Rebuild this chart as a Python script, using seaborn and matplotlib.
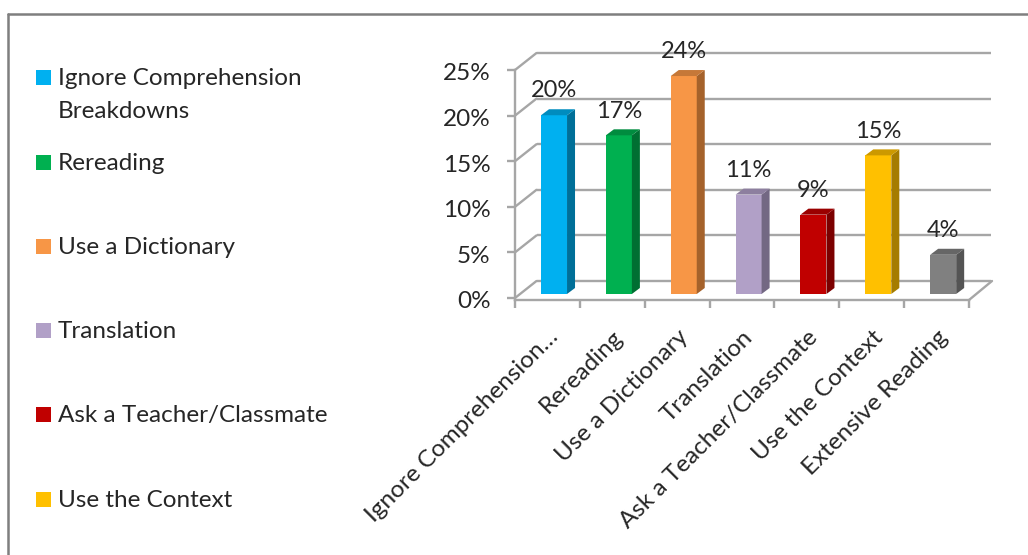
import matplotlib
matplotlib.use("Agg")
import matplotlib.pyplot as plt
from matplotlib.patches import Polygon, Rectangle
from matplotlib.transforms import ScaledTranslation
import pandas as pd
import seaborn as sns

categories = ["Ignore Comprehension Breakdowns", "Rereading", "Use a Dictionary",
              "Translation", "Ask a Teacher/Classmate", "Use the Context", "Extensive Reading"]
axis_labels = ["Ignore Comprehension…", "Rereading", "Use a Dictionary",
               "Translation", "Ask a Teacher/Classmate", "Use the Context", "Extensive Reading"]
legend_labels = ["Ignore Comprehension\nBreakdowns", "Rereading", "Use a Dictionary",
                 "Translation", "Ask a Teacher/Classmate", "Use the Context"]
values = [19.6, 17.4, 23.9, 10.9, 8.7, 15.2, 4.3]
value_labels = ["20%", "17%", "24%", "11%", "9%", "15%", "4%"]
front_colors = ["#00B0F0", "#00B050", "#F79646", "#B1A0C7", "#C00000", "#FFC000", "#808080"]
side_colors = ["#006F98", "#006F32", "#A5622B", "#736883", "#7C0000", "#A57C00", "#545454"]
top_colors = ["#008CBF", "#008C3F", "#C67838", "#8D7F9F", "#9A0000", "#CC9900", "#666666"]
y_ticks = [0, 5, 10, 15, 20, 25]

W, H = 1028, 555
sns.set_theme(style="white")
plt.rcParams["font.family"] = ["Lato", "DejaVu Sans"]
TEXT = "#262626"
GRID = "#A6A6A6"

fig = plt.figure(figsize=(W / 100, H / 100), dpi=100)
L, R, T, B = 515, 969, 70, 300
ax = fig.add_axes([L / W, 1 - B / H, (R - L) / W, (B - T) / H])

df = pd.DataFrame({"category": categories, "value": values})
sns.barplot(data=df, x="category", y="value", hue="category", palette=front_colors,
            order=categories, hue_order=categories, dodge=False, legend=False,
            width=26 / 64.86, saturation=1, linewidth=0, ax=ax)
ax.set_xlim(-0.5, 6.5)
ax.set_ylim(-0.22, 25)
ax.set_xlabel("")
ax.set_ylabel("")

px_x = (R - L) / 7
px_y = (B - T) / 25.22
to_pt = 72 / 100


def shifted(dx, dy):
    return ax.transData + ScaledTranslation(dx * to_pt / 72, dy * to_pt / 72, fig.dpi_scale_trans)


# bars stand on the floor, between the front edge and the back wall
bar_tr = shifted(6.6, 4)
for patch in ax.patches:
    patch.set_transform(bar_tr)
    patch.set_zorder(4)
    patch.set_edgecolor("none")
depth_x, depth_y = 8 / px_x, 6 / px_y
half = 13 / px_x
for i, v in enumerate(values):
    ax.add_patch(Polygon([(i + half, 0), (i + half + depth_x, depth_y),
                          (i + half + depth_x, v + depth_y), (i + half, v)],
                         closed=True, fc=side_colors[i], ec="none", transform=bar_tr,
                         zorder=4, clip_on=False))
    ax.add_patch(Polygon([(i - half, v), (i - half + depth_x, v + depth_y),
                          (i + half + depth_x, v + depth_y), (i + half, v)],
                         closed=True, fc=top_colors[i], ec="none", transform=bar_tr,
                         zorder=4, clip_on=False))
    ax.text(i, v + depth_y + 0.85, value_labels[i], ha="center", va="bottom",
            fontsize=17, color=TEXT, transform=bar_tr, zorder=6, clip_on=False)

# back wall gridlines and left wall diagonals
back_tr = shifted(21.5, 17)
left_edge = -0.5
right_edge = 6.5
for t in y_ticks:
    ax.plot([left_edge, right_edge], [t, t], color=GRID, lw=1.7, transform=back_tr,
            zorder=1, clip_on=False, solid_capstyle="butt")
    ax.plot([left_edge, left_edge + 21.5 / px_x], [t, t + 17 / px_y], color=GRID, lw=1.7,
            zorder=1, clip_on=False)
ax.plot([right_edge, right_edge + 23 / px_x], [-0.22, 17 / px_y], color=GRID, lw=1.7,
        zorder=1, clip_on=False)

# front axes
sns.despine(ax=ax, top=True, right=True)
for side in ("left", "bottom"):
    ax.spines[side].set_color(GRID)
    ax.spines[side].set_linewidth(1.7)
ax.set_yticks(y_ticks)
ax.set_yticklabels([f"{t}%" for t in y_ticks])
ax.tick_params(axis="y", length=6, width=1.7, color=GRID, labelsize=17.5, labelcolor=TEXT,
               pad=11.5, left=True)
for lab in ax.get_yticklabels():
    lab.set_transform(lab.get_transform() + ScaledTranslation(0, -2 / 100, fig.dpi_scale_trans))
ax.set_xticks(range(len(axis_labels)))
ax.set_xticklabels(axis_labels, rotation=45, ha="right", rotation_mode="anchor",
                   fontsize=17.5, color=TEXT)
ax.set_xticks([i - 0.5 for i in range(len(axis_labels) + 1)], minor=True)
ax.tick_params(axis="x", which="major", length=0, pad=19, bottom=False)
ax.tick_params(axis="x", which="minor", length=6, width=1.7, color=GRID, bottom=True)
ax.patch.set_alpha(0)

# legend column
legend_y = [78, 163, 247, 331, 415, 500]
for label, color, y in zip(legend_labels, front_colors, legend_y):
    fig.add_artist(Rectangle((36 / W, 1 - (y + 7) / H), 15 / W, 15 / H, fc=color, ec="none",
                             transform=fig.transFigure))
    fig.text(58 / W, 1 - (y - 10) / H, label, fontsize=17.5, color=TEXT, ha="left", va="top",
             linespacing=1.7)

# picture frame
for xs, ys in (([8, W], [14, 14]), ([8, 8], [14, H])):
    fig.add_artist(plt.Line2D([x / W for x in xs], [1 - y / H for y in ys], color="#7F7F7F",
                              lw=1.8, transform=fig.transFigure))

fig.savefig("out.png", dpi=100)
